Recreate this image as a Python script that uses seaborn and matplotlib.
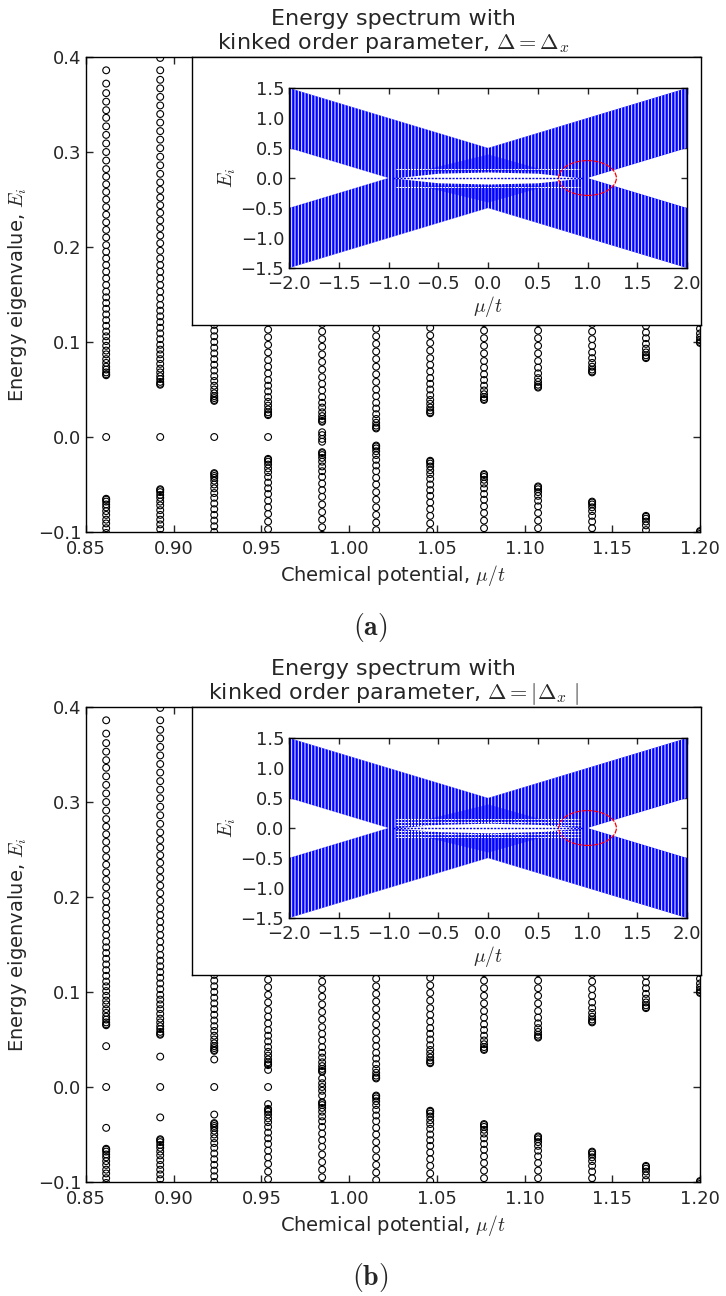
import numpy as np
import pandas as pd
import matplotlib
matplotlib.use("Agg")
import matplotlib.pyplot as plt
import seaborn as sns
from matplotlib.patches import Ellipse

# ---------------- data ----------------
# chemical potential of each visible column of eigenvalues
mu_cols = [0.8615, 0.8923, 0.9231, 0.9538, 0.9846, 1.0154,
           1.0462, 1.0769, 1.1077, 1.1385, 1.1692, 1.2000]

# positive quasiparticle energies of the bulk band in each column
# (spectrum is particle-hole symmetric: every +E has a -E partner)
band_01 = [0.065, 0.066, 0.068, 0.071, 0.074, 0.078, 0.082, 0.087, 0.091, 0.096,
           0.101, 0.106, 0.111, 0.117, 0.123, 0.129, 0.135, 0.141, 0.147, 0.153,
           0.160, 0.167, 0.174, 0.181, 0.188, 0.195, 0.202, 0.210, 0.218, 0.226,
           0.234, 0.242, 0.250, 0.258, 0.266, 0.274, 0.282, 0.291, 0.300, 0.309,
           0.318, 0.327, 0.336, 0.344, 0.353, 0.362, 0.372, 0.386]
band_02 = [0.055, 0.056, 0.058, 0.061, 0.064, 0.068, 0.072, 0.077, 0.082, 0.087,
           0.092, 0.097, 0.103, 0.109, 0.115, 0.121, 0.127, 0.133, 0.139, 0.146,
           0.153, 0.160, 0.167, 0.174, 0.181, 0.188, 0.196, 0.204, 0.212, 0.220,
           0.228, 0.236, 0.244, 0.252, 0.260, 0.268, 0.277, 0.286, 0.295, 0.304,
           0.313, 0.322, 0.331, 0.340, 0.349, 0.358, 0.367, 0.376, 0.386, 0.399]
band_03 = [0.038, 0.039, 0.041, 0.043, 0.046, 0.050, 0.054, 0.059, 0.064, 0.070,
           0.076, 0.082, 0.088, 0.094, 0.100, 0.106, 0.112, 0.118, 0.124]
band_04 = [0.023, 0.024, 0.026, 0.029, 0.033, 0.037, 0.042, 0.048, 0.054, 0.060,
           0.067, 0.074, 0.081, 0.089, 0.097, 0.105, 0.113, 0.121]
band_05 = [0.016, 0.017, 0.019, 0.022, 0.026, 0.031, 0.036, 0.042, 0.049, 0.056,
           0.063, 0.071, 0.079, 0.087, 0.095, 0.103, 0.111, 0.119]
band_06 = [0.009, 0.010, 0.012, 0.015, 0.019, 0.024, 0.030, 0.036, 0.043, 0.050,
           0.058, 0.066, 0.074, 0.082, 0.090, 0.098, 0.106, 0.114, 0.122]
band_07 = [0.025, 0.026, 0.028, 0.031, 0.035, 0.039, 0.044, 0.050, 0.056, 0.062,
           0.069, 0.076, 0.083, 0.091, 0.099, 0.107, 0.115, 0.123]
band_08 = [0.039, 0.040, 0.042, 0.045, 0.049, 0.054, 0.060, 0.066, 0.073, 0.080,
           0.088, 0.096, 0.104, 0.112, 0.120]
band_09 = [0.052, 0.053, 0.055, 0.058, 0.062, 0.067, 0.073, 0.080, 0.088, 0.096,
           0.104, 0.112, 0.120]
band_10 = [0.068, 0.069, 0.071, 0.074, 0.078, 0.083, 0.089, 0.096, 0.103, 0.111, 0.119]
band_11 = [0.083, 0.084, 0.086, 0.089, 0.093, 0.098, 0.104, 0.110, 0.117, 0.124]
band_12 = [0.099, 0.100, 0.102, 0.105, 0.109, 0.114, 0.120, 0.126]

# in-gap (kink-bound) states, positive partner listed (0.0 = zero mode)
ingap_a = [[0.0], [0.0], [0.0], [0.0], [0.002, 0.005], [], [], [], [], [], [], []]
ingap_b = [[0.0, 0.043], [0.0, 0.032], [0.0, 0.029], [0.0, 0.018],
           [0.0, 0.004, 0.009], [], [], [], [], [], [], []]

main_xticks = [0.85, 0.90, 0.95, 1.00, 1.05, 1.10, 1.15, 1.20]
main_yticks = [-0.1, 0.0, 0.1, 0.2, 0.3, 0.4]

# inset: full spectrum vs mu/t (band edges)
inset_mu = [-2.0, -1.0, 0.0, 1.0, 2.0]
inset_outer = [1.5, 1.0, 0.5, 1.0, 1.5]
inset_inner = [0.5, 0.0, 0.0, 0.0, 0.5]
dense_mu = [-0.7, 0.0, 0.6]
dense_top = [0.12, 0.40, 0.12]
dense_base = [0.12, 0.12, 0.12]
lens_mu = [-0.95, -0.5, 0.0, 0.5, 0.95]
lens_half_a = [0.0, 0.08, 0.10, 0.08, 0.0]
lens_half_b = [0.0, 0.06, 0.08, 0.06, 0.0]
white_lines_a = [0.15, -0.15]
white_lines_b = [0.15, 0.10, 0.05, -0.05, -0.10, -0.15]
inset_xticks = [-2.0, -1.5, -1.0, -0.5, 0.0, 0.5, 1.0, 1.5, 2.0]
inset_yticks = [-1.5, -1.0, -0.5, 0.0, 0.5, 1.0, 1.5]
ring_center = (1.0, 0.0)
ring_size = (0.58, 0.58)

bands = [band_01, band_02, band_03, band_04, band_05, band_06,
         band_07, band_08, band_09, band_10, band_11, band_12]

# ---------------- style ----------------
sns.set_style("ticks")
plt.rcParams.update({
    "font.family": ["DejaVu Sans"],
    "mathtext.fontset": "cm",
    "xtick.direction": "in",
    "ytick.direction": "in",
    "hatch.linewidth": 0.7,
    "hatch.color": "white",
    "axes.linewidth": 1.0,
})


def spectrum_frame(ingap):
    rows = []
    for m, band, extra in zip(mu_cols, bands, ingap):
        for v in band:
            rows.append((m, v))
            rows.append((m, -v))
        for v in extra:
            rows.append((m, v))
            if v != 0:
                rows.append((m, -v))
    return pd.DataFrame(rows, columns=["mu", "E"])


fig = plt.figure(figsize=(7.26, 12.96), dpi=100)
H = 1296.0
W = 726.0


def fx(px):
    return px / W


def panel(top_px, ingap, title, tag, lens_half, white_lines):
    # main axes: x 86-700 px, height 475 px
    ax = fig.add_axes([fx(86), 1 - (top_px + 475) / H, fx(614), 475 / H])
    df = spectrum_frame(ingap)
    sns.scatterplot(data=df, x="mu", y="E", ax=ax, marker="o", s=24,
                    facecolor="none", edgecolor="black", linewidth=0.8,
                    legend=False)
    ax.set_xlim(0.85, 1.2)
    ax.set_ylim(-0.1, 0.4)
    ax.set_xticks(main_xticks)
    ax.set_yticks(main_yticks)
    ax.tick_params(top=True, right=True, length=5, width=1, labelsize=13)
    ax.tick_params(axis="x", pad=6)
    ax.set_xlabel(r"Chemical potential, $\mu/t$", fontsize=14, labelpad=3)
    ax.set_ylabel(r"Energy eigenvalue, $E_i$", fontsize=14, labelpad=6)
    ax.set_title(title, fontsize=16, pad=6, linespacing=1.1)
    for s in ax.spines.values():
        s.set_color("black")

    # inset frame
    box = fig.add_axes([fx(192), 1 - (top_px + 268) / H, fx(509), 268 / H])
    box.set_facecolor("white")
    box.set_xticks([])
    box.set_yticks([])
    for s in box.spines.values():
        s.set_color("black")
        s.set_linewidth(1.0)
    box.set_zorder(3)

    ins = fig.add_axes([fx(289), 1 - (top_px + 31 + 180) / H, fx(398), 180 / H])
    ins.set_zorder(4)
    ins.set_facecolor("white")
    ins.fill_between(inset_mu, inset_inner, inset_outer, facecolor="#0000ff",
                     edgecolor="white", hatch="|||||", linewidth=0)
    ins.fill_between(inset_mu, [-v for v in inset_inner], [-v for v in inset_outer],
                     facecolor="#0000ff", edgecolor="white", hatch="|||||", linewidth=0)
    ins.fill_between(dense_mu, dense_base, dense_top, color="#0000ff", alpha=0.45,
                     linewidth=0)
    ins.fill_between(dense_mu, [-v for v in dense_base], [-v for v in dense_top],
                     color="#0000ff", alpha=0.45, linewidth=0)
    ins.fill_between(lens_mu, [-v for v in lens_half], lens_half, color="white",
                     linewidth=0)
    ins.hlines(white_lines, -0.92, 0.92, color="white", linewidth=0.7,
               linestyle=(0, (2, 1)))
    ins.hlines([0.0], -0.95, 0.95, color="#0000ff", linewidth=1.0,
               linestyle=(0, (1.5, 1)))
    ins.add_patch(Ellipse(ring_center, ring_size[0], ring_size[1], fill=False,
                          edgecolor="red", linewidth=0.9, linestyle=(0, (4, 1))))
    ins.set_xlim(-2, 2)
    ins.set_ylim(-1.5, 1.5)
    ins.set_xticks(inset_xticks)
    ins.set_yticks(inset_yticks)
    ins.tick_params(top=True, right=True, length=4, width=1, labelsize=13)
    ins.tick_params(axis="x", pad=5)
    ins.set_xlabel(r"$\mu/t$", fontsize=14, labelpad=1)
    ins.set_ylabel(r"$E_i$", fontsize=14, labelpad=2)
    for s in ins.spines.values():
        s.set_color("black")

    fig.text(fx(370), 1 - (top_px + 570) / H, tag, ha="center", va="center",
             fontsize=20)


panel(57, ingap_a,
      "Energy spectrum with\nkinked order parameter, $\\Delta = \\Delta_x$",
      r"$\mathbf{(a)}$", lens_half_a, white_lines_a)
panel(707, ingap_b,
      "Energy spectrum with\nkinked order parameter, $\\Delta = |\\Delta_x\\ |$",
      r"$\mathbf{(b)}$", lens_half_b, white_lines_b)

fig.savefig("out.png", dpi=100)
